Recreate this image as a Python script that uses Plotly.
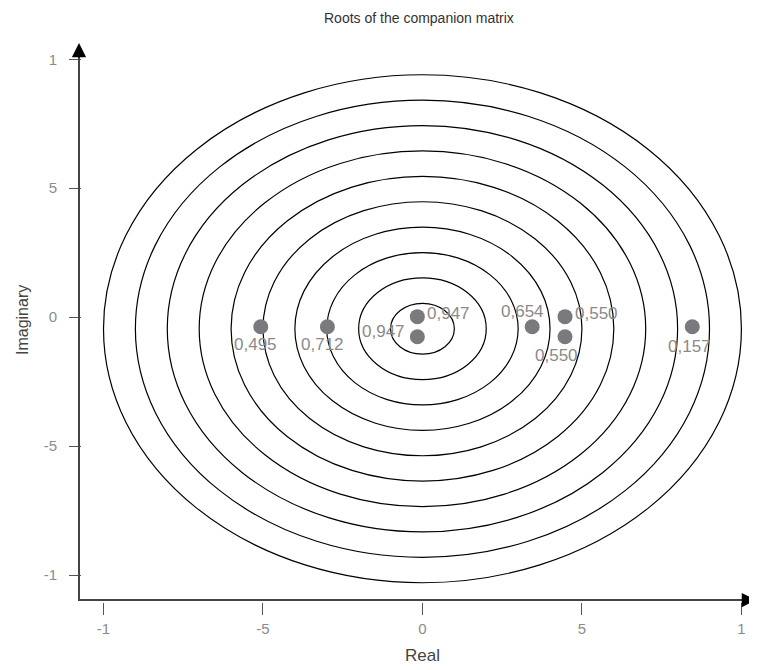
import plotly.graph_objects as go

# ---------------- data ----------------
TITLE = "Roots of the companion matrix"
X_TITLE = "Real"
Y_TITLE = "Imaginary"

ROOT_REAL = [-0.507, -0.298, -0.016, -0.016, 0.344, 0.447, 0.447, 0.846]
ROOT_IMAG = [-0.037, -0.037, 0.002, -0.076, -0.037, 0.002, -0.076, -0.037]
ROOT_LABELS = ["0,495", "0,712", "0,947", "0,947", "0,654", "0,550", "0,550", "0,157"]

CIRCLE_RADII = [0.1, 0.2, 0.3, 0.4, 0.5, 0.6, 0.7, 0.8, 0.9, 1.0]

X_TICK_VALUES = [-1, -0.5, 0, 0.5, 1]
X_TICK_TEXT = ["-1", "-5", "0", "5", "1"]
Y_TICK_VALUES = [-1, -0.5, 0, 0.5, 1]
Y_TICK_TEXT = ["-1", "-5", "0", "5", "1"]

# ---------------- layout geometry (window pixels) ----------------
WIN_W, WIN_H = 757, 670
OFF = 8                      # default page body margin
W, H = WIN_W - OFF, WIN_H - OFF
# plot area edges in window pixels
PL, PR, PT, PB = 82, 757, 45, 602
L, R, T, B = PL - OFF, W - (PR - OFF), PT - OFF, H - (PB - OFF)
PX_X0, PX_PER_X = 422.45, 318.95     # window pixel of x=0, pixels per unit
PX_Y0, PX_PER_Y = 317.15, 257.85     # window pixel of y=0, pixels per unit
plot_w = PR - PL
plot_h = PB - PT

x_range = [(PL - PX_X0) / PX_PER_X, (PR - PX_X0) / PX_PER_X]
y_range = [(PX_Y0 - PB) / PX_PER_Y, (PX_Y0 - PT) / PX_PER_Y]


def paper_x(px):
    return (px - PL) / plot_w


def paper_y(py):
    return (PB - py) / plot_h


# circle family style
CIRCLE_CENTER_Y = -0.045
CIRCLE_Y_SCALE = 0.985

LABEL_OFFSETS = [(-5, 18), (-5, 18), (31, -3), (-34, -5), (-10, -15), (31, -3), (-9, 19), (-3, 20)]

FONT = "Liberation Sans, Arial, Helvetica, sans-serif"

fig = go.Figure()

fig.add_trace(go.Scatter(
    x=ROOT_REAL, y=ROOT_IMAG, mode="markers",
    marker=dict(size=15, color="#7a7a7e", line=dict(width=0)),
    hoverinfo="skip", showlegend=False,
))

shapes = []
for r in CIRCLE_RADII:
    shapes.append(dict(
        type="circle", xref="x", yref="y",
        x0=-r, x1=r,
        y0=CIRCLE_CENTER_Y - r * CIRCLE_Y_SCALE, y1=CIRCLE_CENTER_Y + r * CIRCLE_Y_SCALE,
        line=dict(color="#000000", width=1.2), layer="below",
    ))

# axis lines
AXIS_PX_X = 79
AXIS_PX_Y = 600
shapes.append(dict(type="line", xref="paper", yref="paper",
                   x0=paper_x(AXIS_PX_X), x1=paper_x(AXIS_PX_X),
                   y0=paper_y(AXIS_PX_Y + 1), y1=paper_y(52),
                   line=dict(color="#444444", width=2)))
shapes.append(dict(type="line", xref="paper", yref="paper",
                   x0=paper_x(AXIS_PX_X - 1), x1=paper_x(750),
                   y0=paper_y(AXIS_PX_Y), y1=paper_y(AXIS_PX_Y),
                   line=dict(color="#444444", width=2)))

annotations = []
# arrow heads
annotations.append(dict(xref="paper", yref="paper", x=paper_x(AXIS_PX_X), y=paper_y(43),
                        ax=0, ay=16, showarrow=True, arrowhead=2, arrowsize=1.9,
                        arrowwidth=1.5, arrowcolor="#000000", text=""))
annotations.append(dict(xref="paper", yref="paper", x=paper_x(761), y=paper_y(AXIS_PX_Y),
                        ax=-16, ay=0, showarrow=True, arrowhead=2, arrowsize=1.9,
                        arrowwidth=1.5, arrowcolor="#000000", text=""))

# root labels
for xv, yv, lab, (dx, dy) in zip(ROOT_REAL, ROOT_IMAG, ROOT_LABELS, LABEL_OFFSETS):
    annotations.append(dict(
        x=xv, y=yv, xref="x", yref="y", text=lab, showarrow=False,
        xanchor="center", yanchor="middle", xshift=dx, yshift=-dy,
        font=dict(family=FONT, size=17, color="#8a8a8a"),
    ))

# titles
annotations.append(dict(xref="paper", yref="paper", x=paper_x(418.5), y=paper_y(18),
                        text=TITLE, showarrow=False, xanchor="center", yanchor="middle",
                        font=dict(family=FONT, size=14, color="#333333")))
annotations.append(dict(xref="paper", yref="paper", x=paper_x(422.5), y=paper_y(655),
                        text=X_TITLE, showarrow=False, xanchor="center", yanchor="middle",
                        font=dict(family=FONT, size=17, color="#444444")))
annotations.append(dict(xref="paper", yref="paper", x=paper_x(22), y=paper_y(320),
                        text=Y_TITLE, showarrow=False, xanchor="center", yanchor="middle",
                        textangle=-90,
                        font=dict(family=FONT, size=16, color="#444444")))

axis_common = dict(
    showgrid=False, zeroline=False, showline=False,
    ticks="outside", ticklen=12, tickwidth=1.3, tickcolor="#555555",
    tickfont=dict(family=FONT, size=15, color="#8c8c8c"),
    fixedrange=True,
)

fig.update_layout(
    width=W, height=H,
    margin=dict(l=L, r=R, t=T, b=B, pad=0),
    paper_bgcolor="white", plot_bgcolor="white",
    xaxis=dict(range=x_range, tickvals=X_TICK_VALUES, ticktext=X_TICK_TEXT,
               ticklabelstandoff=1, **axis_common),
    yaxis=dict(range=y_range, tickvals=Y_TICK_VALUES, ticktext=Y_TICK_TEXT,
               ticklabelstandoff=9, **axis_common),
    shapes=shapes,
    annotations=annotations,
    showlegend=False,
)

fig.write_html("out.html", config={"displayModeBar": False})
